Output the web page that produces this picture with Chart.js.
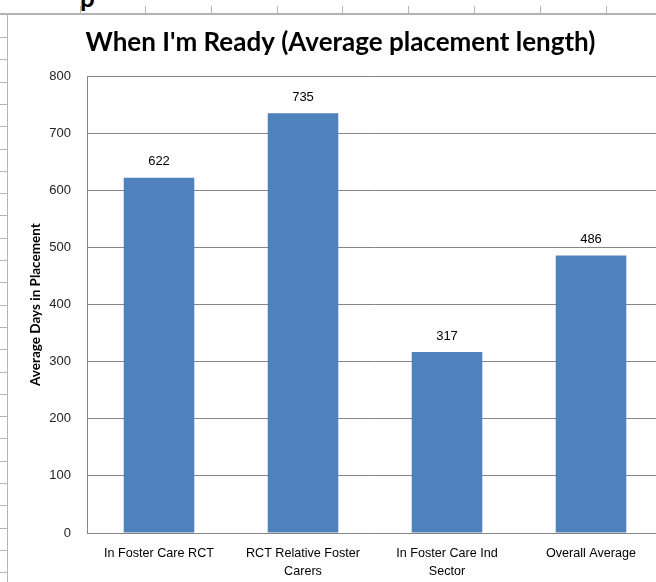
<title>When I'm Ready</title>
<meta charset="UTF-8">
<style>
body { margin:0; width:656px; height:582px; overflow:hidden; background:#fff; position:relative; }
#sheet div { position:absolute; background:#b4b4b4; }
#c { position:absolute; left:8px; top:15px; }
#cut { position:absolute; left:80px; top:-19px; font:bold 26px Lato; color:#000; }
</style>
<body>
<div id="sheet"></div>
<div id="cut">p</div>
<canvas id="c" width="660" height="567"></canvas>

<script src="https://cdn.jsdelivr.net/npm/chart.js@4/dist/chart.umd.min.js"></script>
<script>
var categories = [["In Foster Care RCT"], ["RCT Relative Foster", "Carers"], ["In Foster Care Ind", "Sector"], ["Overall Average"]];
var days = [622, 735, 317, 486];
var yTicks = [0, 100, 200, 300, 400, 500, 600, 700, 800];

// spreadsheet lines behind the chart
var sheet = document.getElementById("sheet");
function line(x, y, w, h) {
	var d = document.createElement("div");
	d.style.left = x + "px"; d.style.top = y + "px";
	d.style.width = w + "px"; d.style.height = h + "px";
	sheet.appendChild(d);
}
line(0, 13, 656, 2);
line(7, 14, 1, 568);
[80, 145, 211, 277, 342, 408, 474, 540, 606].forEach(function(x) { line(x, 6, 1, 8); });
for (var y = 37; y < 582; y += 22.3) line(0, Math.round(y), 7, 1);

var barLabels = {
	id: "barLabels",
	afterDatasetsDraw: function(chart) {
		var ctx = chart.ctx;
		ctx.save();
		ctx.font = "13px 'Liberation Sans'";
		ctx.fillStyle = "#000";
		ctx.textAlign = "center";
		ctx.textBaseline = "middle";
		chart.getDatasetMeta(0).data.forEach(function(bar, i) {
			ctx.fillText(days[i], bar.x, bar.y - 16);
		});
		ctx.restore();
	}
};

new Chart("c", {
	type: "bar",
	data: {
		labels: categories,
		datasets: [{
			data: days,
			backgroundColor: "#4F81BD",
			categoryPercentage: 1,
			barPercentage: 0.49
		}]
	},
	plugins: [barLabels],
	options: {
		responsive: false,
		devicePixelRatio: 1,
		animation: false,
		layout: { padding: { left: 10, right: 5, top: 0, bottom: 0 } },
		plugins: {
			legend: { display: false },
			tooltip: { enabled: false },
			title: {
				display: true,
				text: "When I'm Ready (Average placement length)",
				color: "#000",
				font: { family: "Lato", size: 26, weight: "bold" },
				padding: { top: 12, bottom: 18 }
			}
		},
		scales: {
			y: {
				min: 0, max: 800,
				afterBuildTicks: function(s) { s.ticks = yTicks.map(function(v) { return { value: v }; }); },
				afterFit: function(s) { s.width = 69; },
				ticks: { color: "#222", font: { family: "Liberation Sans", size: 13 }, padding: 16 },
				grid: { color: "#868686", drawTicks: false },
				border: { color: "#868686" },
				title: {
					display: true,
					text: "Average Days in Placement",
					color: "#000",
					font: { family: "Lato", size: 13.5, weight: "bold" },
					padding: { top: 10, bottom: 0 }
				}
			},
			x: {
				afterFit: function(s) { s.height = 49; },
				grid: { display: false },
				border: { color: "#868686" },
				ticks: { color: "#000", font: { family: "Liberation Sans", size: 12.6, lineHeight: 1.45 }, padding: 3, maxRotation: 0, autoSkip: false }
			}
		}
	}
});
</script>
